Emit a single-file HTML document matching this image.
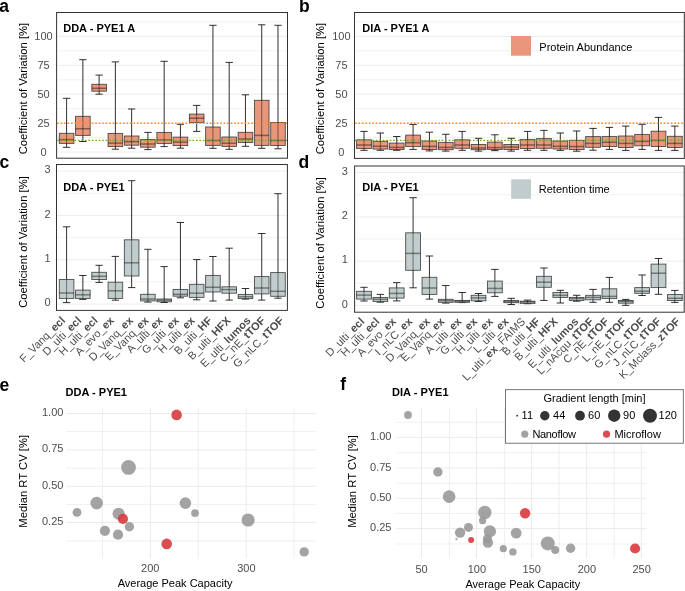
<!DOCTYPE html><html><head><meta charset="utf-8"><style>html,body{margin:0;padding:0;background:#fff;}svg{display:block;will-change:transform;}text{font-family:"Liberation Sans",sans-serif;}</style></head><body>
<svg width="685" height="591" viewBox="0 0 685 591">
<rect width="685" height="591" fill="#fff"/>
<line x1="56.6" y1="152" x2="287.5" y2="152" stroke="#EBEBEB" stroke-width="0.9"/>
<line x1="56.6" y1="123.1" x2="287.5" y2="123.1" stroke="#EBEBEB" stroke-width="0.9"/>
<line x1="56.6" y1="94.2" x2="287.5" y2="94.2" stroke="#EBEBEB" stroke-width="0.9"/>
<line x1="56.6" y1="65.3" x2="287.5" y2="65.3" stroke="#EBEBEB" stroke-width="0.9"/>
<line x1="56.6" y1="36.4" x2="287.5" y2="36.4" stroke="#EBEBEB" stroke-width="0.9"/>
<line x1="56.6" y1="137.55" x2="287.5" y2="137.55" stroke="#EBEBEB" stroke-width="0.7"/>
<line x1="56.6" y1="108.65" x2="287.5" y2="108.65" stroke="#EBEBEB" stroke-width="0.7"/>
<line x1="56.6" y1="79.75" x2="287.5" y2="79.75" stroke="#EBEBEB" stroke-width="0.7"/>
<line x1="56.6" y1="50.85" x2="287.5" y2="50.85" stroke="#EBEBEB" stroke-width="0.7"/>
<line x1="56.6" y1="21.95" x2="287.5" y2="21.95" stroke="#EBEBEB" stroke-width="0.7"/>
<line x1="66.6" y1="98.3" x2="66.6" y2="147.3" stroke="#1a1a1a" stroke-width="0.9"/>
<line x1="62.95" y1="98.3" x2="70.25" y2="98.3" stroke="#1a1a1a" stroke-width="0.9"/>
<line x1="62.95" y1="147.3" x2="70.25" y2="147.3" stroke="#1a1a1a" stroke-width="0.9"/>
<rect x="59.3" y="133.3" width="14.6" height="10.1" fill="#E9967A" stroke="#333" stroke-opacity="0.85" stroke-width="0.9"/>
<line x1="66.6" y1="133.3" x2="66.6" y2="143.4" stroke="#000" stroke-opacity="0.5" stroke-width="0.9"/>
<line x1="59.3" y1="139.6" x2="73.9" y2="139.6" stroke="#000" stroke-opacity="0.42" stroke-width="1.5"/>
<line x1="82.86" y1="59.7" x2="82.86" y2="141.5" stroke="#1a1a1a" stroke-width="0.9"/>
<line x1="79.21" y1="59.7" x2="86.51" y2="59.7" stroke="#1a1a1a" stroke-width="0.9"/>
<line x1="79.21" y1="141.5" x2="86.51" y2="141.5" stroke="#1a1a1a" stroke-width="0.9"/>
<rect x="75.56" y="116.3" width="14.6" height="19.1" fill="#E9967A" stroke="#333" stroke-opacity="0.85" stroke-width="0.9"/>
<line x1="82.86" y1="116.3" x2="82.86" y2="135.4" stroke="#000" stroke-opacity="0.5" stroke-width="0.9"/>
<line x1="75.56" y1="128.7" x2="90.16" y2="128.7" stroke="#000" stroke-opacity="0.42" stroke-width="1.5"/>
<line x1="99.12" y1="75.1" x2="99.12" y2="94.2" stroke="#1a1a1a" stroke-width="0.9"/>
<line x1="95.47" y1="75.1" x2="102.77" y2="75.1" stroke="#1a1a1a" stroke-width="0.9"/>
<line x1="95.47" y1="94.2" x2="102.77" y2="94.2" stroke="#1a1a1a" stroke-width="0.9"/>
<rect x="91.82" y="84.3" width="14.6" height="6.9" fill="#E9967A" stroke="#333" stroke-opacity="0.85" stroke-width="0.9"/>
<line x1="99.12" y1="84.3" x2="99.12" y2="91.2" stroke="#000" stroke-opacity="0.5" stroke-width="0.9"/>
<line x1="91.82" y1="88.3" x2="106.42" y2="88.3" stroke="#000" stroke-opacity="0.42" stroke-width="1.5"/>
<line x1="115.38" y1="61.9" x2="115.38" y2="149.2" stroke="#1a1a1a" stroke-width="0.9"/>
<line x1="111.73" y1="61.9" x2="119.03" y2="61.9" stroke="#1a1a1a" stroke-width="0.9"/>
<line x1="111.73" y1="149.2" x2="119.03" y2="149.2" stroke="#1a1a1a" stroke-width="0.9"/>
<rect x="108.08" y="133.4" width="14.6" height="13.2" fill="#E9967A" stroke="#333" stroke-opacity="0.85" stroke-width="0.9"/>
<line x1="115.38" y1="133.4" x2="115.38" y2="146.6" stroke="#000" stroke-opacity="0.5" stroke-width="0.9"/>
<line x1="108.08" y1="143.1" x2="122.68" y2="143.1" stroke="#000" stroke-opacity="0.42" stroke-width="1.5"/>
<line x1="131.64" y1="109" x2="131.64" y2="148.2" stroke="#1a1a1a" stroke-width="0.9"/>
<line x1="127.99" y1="109" x2="135.29" y2="109" stroke="#1a1a1a" stroke-width="0.9"/>
<line x1="127.99" y1="148.2" x2="135.29" y2="148.2" stroke="#1a1a1a" stroke-width="0.9"/>
<rect x="124.34" y="136" width="14.6" height="9.2" fill="#E9967A" stroke="#333" stroke-opacity="0.85" stroke-width="0.9"/>
<line x1="131.64" y1="136" x2="131.64" y2="145.2" stroke="#000" stroke-opacity="0.5" stroke-width="0.9"/>
<line x1="124.34" y1="141.7" x2="138.94" y2="141.7" stroke="#000" stroke-opacity="0.42" stroke-width="1.5"/>
<line x1="147.9" y1="132.4" x2="147.9" y2="149.6" stroke="#1a1a1a" stroke-width="0.9"/>
<line x1="144.25" y1="132.4" x2="151.55" y2="132.4" stroke="#1a1a1a" stroke-width="0.9"/>
<line x1="144.25" y1="149.6" x2="151.55" y2="149.6" stroke="#1a1a1a" stroke-width="0.9"/>
<rect x="140.6" y="139.5" width="14.6" height="7.7" fill="#E9967A" stroke="#333" stroke-opacity="0.85" stroke-width="0.9"/>
<line x1="147.9" y1="139.5" x2="147.9" y2="147.2" stroke="#000" stroke-opacity="0.5" stroke-width="0.9"/>
<line x1="140.6" y1="144" x2="155.2" y2="144" stroke="#000" stroke-opacity="0.42" stroke-width="1.5"/>
<line x1="164.16" y1="61.3" x2="164.16" y2="146.6" stroke="#1a1a1a" stroke-width="0.9"/>
<line x1="160.51" y1="61.3" x2="167.81" y2="61.3" stroke="#1a1a1a" stroke-width="0.9"/>
<line x1="160.51" y1="146.6" x2="167.81" y2="146.6" stroke="#1a1a1a" stroke-width="0.9"/>
<rect x="156.86" y="132.4" width="14.6" height="11.2" fill="#E9967A" stroke="#333" stroke-opacity="0.85" stroke-width="0.9"/>
<line x1="164.16" y1="132.4" x2="164.16" y2="143.6" stroke="#000" stroke-opacity="0.5" stroke-width="0.9"/>
<line x1="156.86" y1="139.9" x2="171.46" y2="139.9" stroke="#000" stroke-opacity="0.42" stroke-width="1.5"/>
<line x1="180.42" y1="124.3" x2="180.42" y2="148.2" stroke="#1a1a1a" stroke-width="0.9"/>
<line x1="176.77" y1="124.3" x2="184.07" y2="124.3" stroke="#1a1a1a" stroke-width="0.9"/>
<line x1="176.77" y1="148.2" x2="184.07" y2="148.2" stroke="#1a1a1a" stroke-width="0.9"/>
<rect x="173.12" y="137.1" width="14.6" height="8.5" fill="#E9967A" stroke="#333" stroke-opacity="0.85" stroke-width="0.9"/>
<line x1="180.42" y1="137.1" x2="180.42" y2="145.6" stroke="#000" stroke-opacity="0.5" stroke-width="0.9"/>
<line x1="173.12" y1="142.1" x2="187.72" y2="142.1" stroke="#000" stroke-opacity="0.42" stroke-width="1.5"/>
<line x1="196.68" y1="105.4" x2="196.68" y2="131.4" stroke="#1a1a1a" stroke-width="0.9"/>
<line x1="193.03" y1="105.4" x2="200.33" y2="105.4" stroke="#1a1a1a" stroke-width="0.9"/>
<line x1="193.03" y1="131.4" x2="200.33" y2="131.4" stroke="#1a1a1a" stroke-width="0.9"/>
<rect x="189.38" y="114.1" width="14.6" height="8.5" fill="#E9967A" stroke="#333" stroke-opacity="0.85" stroke-width="0.9"/>
<line x1="196.68" y1="114.1" x2="196.68" y2="122.6" stroke="#000" stroke-opacity="0.5" stroke-width="0.9"/>
<line x1="189.38" y1="118.2" x2="203.98" y2="118.2" stroke="#000" stroke-opacity="0.42" stroke-width="1.5"/>
<line x1="212.94" y1="25.3" x2="212.94" y2="148.3" stroke="#1a1a1a" stroke-width="0.9"/>
<line x1="209.29" y1="25.3" x2="216.59" y2="25.3" stroke="#1a1a1a" stroke-width="0.9"/>
<line x1="209.29" y1="148.3" x2="216.59" y2="148.3" stroke="#1a1a1a" stroke-width="0.9"/>
<rect x="205.64" y="127" width="14.6" height="18.4" fill="#E9967A" stroke="#333" stroke-opacity="0.85" stroke-width="0.9"/>
<line x1="212.94" y1="127" x2="212.94" y2="145.4" stroke="#000" stroke-opacity="0.5" stroke-width="0.9"/>
<line x1="205.64" y1="140.5" x2="220.24" y2="140.5" stroke="#000" stroke-opacity="0.42" stroke-width="1.5"/>
<line x1="229.2" y1="62.4" x2="229.2" y2="149.3" stroke="#1a1a1a" stroke-width="0.9"/>
<line x1="225.55" y1="62.4" x2="232.85" y2="62.4" stroke="#1a1a1a" stroke-width="0.9"/>
<line x1="225.55" y1="149.3" x2="232.85" y2="149.3" stroke="#1a1a1a" stroke-width="0.9"/>
<rect x="221.9" y="137" width="14.6" height="9.4" fill="#E9967A" stroke="#333" stroke-opacity="0.85" stroke-width="0.9"/>
<line x1="229.2" y1="137" x2="229.2" y2="146.4" stroke="#000" stroke-opacity="0.5" stroke-width="0.9"/>
<line x1="221.9" y1="143.2" x2="236.5" y2="143.2" stroke="#000" stroke-opacity="0.42" stroke-width="1.5"/>
<line x1="245.46" y1="94.8" x2="245.46" y2="146.3" stroke="#1a1a1a" stroke-width="0.9"/>
<line x1="241.81" y1="94.8" x2="249.11" y2="94.8" stroke="#1a1a1a" stroke-width="0.9"/>
<line x1="241.81" y1="146.3" x2="249.11" y2="146.3" stroke="#1a1a1a" stroke-width="0.9"/>
<rect x="238.16" y="132.3" width="14.6" height="10.2" fill="#E9967A" stroke="#333" stroke-opacity="0.85" stroke-width="0.9"/>
<line x1="245.46" y1="132.3" x2="245.46" y2="142.5" stroke="#000" stroke-opacity="0.5" stroke-width="0.9"/>
<line x1="238.16" y1="139" x2="252.76" y2="139" stroke="#000" stroke-opacity="0.42" stroke-width="1.5"/>
<line x1="261.72" y1="24.8" x2="261.72" y2="148.3" stroke="#1a1a1a" stroke-width="0.9"/>
<line x1="258.07" y1="24.8" x2="265.37" y2="24.8" stroke="#1a1a1a" stroke-width="0.9"/>
<line x1="258.07" y1="148.3" x2="265.37" y2="148.3" stroke="#1a1a1a" stroke-width="0.9"/>
<rect x="254.42" y="100.3" width="14.6" height="45.1" fill="#E9967A" stroke="#333" stroke-opacity="0.85" stroke-width="0.9"/>
<line x1="261.72" y1="100.3" x2="261.72" y2="145.4" stroke="#000" stroke-opacity="0.5" stroke-width="0.9"/>
<line x1="254.42" y1="135.4" x2="269.02" y2="135.4" stroke="#000" stroke-opacity="0.42" stroke-width="1.5"/>
<line x1="277.98" y1="25.3" x2="277.98" y2="148.8" stroke="#1a1a1a" stroke-width="0.9"/>
<line x1="274.33" y1="25.3" x2="281.63" y2="25.3" stroke="#1a1a1a" stroke-width="0.9"/>
<line x1="274.33" y1="148.8" x2="281.63" y2="148.8" stroke="#1a1a1a" stroke-width="0.9"/>
<rect x="270.68" y="122.5" width="14.6" height="23" fill="#E9967A" stroke="#333" stroke-opacity="0.85" stroke-width="0.9"/>
<line x1="277.98" y1="122.5" x2="277.98" y2="145.5" stroke="#000" stroke-opacity="0.5" stroke-width="0.9"/>
<line x1="270.68" y1="140.5" x2="285.28" y2="140.5" stroke="#000" stroke-opacity="0.42" stroke-width="1.5"/>
<line x1="57.1" y1="123.2" x2="287.5" y2="123.2" stroke="#FF8E26" stroke-width="1.4" stroke-dasharray="1.6 1.87"/>
<line x1="57.1" y1="140.4" x2="287.5" y2="140.4" stroke="#6DAA1A" stroke-width="1.4" stroke-dasharray="1.6 1.87"/>
<rect x="56.6" y="12.5" width="230.9" height="145.7" fill="none" stroke="#333" stroke-width="1"/>
<text x="43.5" y="155.9" fill="#4D4D4D" font-size="11" text-anchor="middle">0</text>
<text x="43.5" y="127" fill="#4D4D4D" font-size="11" text-anchor="middle">25</text>
<text x="43.5" y="98.1" fill="#4D4D4D" font-size="11" text-anchor="middle">50</text>
<text x="43.5" y="69.2" fill="#4D4D4D" font-size="11" text-anchor="middle">75</text>
<text x="43.5" y="40.3" fill="#4D4D4D" font-size="11" text-anchor="middle">100</text>
<text transform="translate(26.6,88.6) rotate(-90)" font-size="11.25" text-anchor="middle" fill="#000">Coefficient of Variation [%]</text>
<text x="63.2" y="31.6" font-size="11" font-weight="bold">DDA - PYE1 A</text>
<line x1="354.5" y1="152" x2="684.3" y2="152" stroke="#EBEBEB" stroke-width="0.9"/>
<line x1="354.5" y1="123.1" x2="684.3" y2="123.1" stroke="#EBEBEB" stroke-width="0.9"/>
<line x1="354.5" y1="94.2" x2="684.3" y2="94.2" stroke="#EBEBEB" stroke-width="0.9"/>
<line x1="354.5" y1="65.3" x2="684.3" y2="65.3" stroke="#EBEBEB" stroke-width="0.9"/>
<line x1="354.5" y1="36.4" x2="684.3" y2="36.4" stroke="#EBEBEB" stroke-width="0.9"/>
<line x1="354.5" y1="137.55" x2="684.3" y2="137.55" stroke="#EBEBEB" stroke-width="0.7"/>
<line x1="354.5" y1="108.65" x2="684.3" y2="108.65" stroke="#EBEBEB" stroke-width="0.7"/>
<line x1="354.5" y1="79.75" x2="684.3" y2="79.75" stroke="#EBEBEB" stroke-width="0.7"/>
<line x1="354.5" y1="50.85" x2="684.3" y2="50.85" stroke="#EBEBEB" stroke-width="0.7"/>
<line x1="354.5" y1="21.95" x2="684.3" y2="21.95" stroke="#EBEBEB" stroke-width="0.7"/>
<line x1="364" y1="131.4" x2="364" y2="150.3" stroke="#1a1a1a" stroke-width="0.9"/>
<line x1="360.3" y1="131.4" x2="367.7" y2="131.4" stroke="#1a1a1a" stroke-width="0.9"/>
<line x1="360.3" y1="150.3" x2="367.7" y2="150.3" stroke="#1a1a1a" stroke-width="0.9"/>
<rect x="356.6" y="139.8" width="14.8" height="8.7" fill="#E9967A" stroke="#333" stroke-opacity="0.85" stroke-width="0.9"/>
<line x1="364" y1="139.8" x2="364" y2="148.5" stroke="#000" stroke-opacity="0.5" stroke-width="0.9"/>
<line x1="356.6" y1="145" x2="371.4" y2="145" stroke="#000" stroke-opacity="0.42" stroke-width="1.5"/>
<line x1="380.36" y1="133" x2="380.36" y2="150.3" stroke="#1a1a1a" stroke-width="0.9"/>
<line x1="376.66" y1="133" x2="384.06" y2="133" stroke="#1a1a1a" stroke-width="0.9"/>
<line x1="376.66" y1="150.3" x2="384.06" y2="150.3" stroke="#1a1a1a" stroke-width="0.9"/>
<rect x="372.96" y="141.3" width="14.8" height="7.8" fill="#E9967A" stroke="#333" stroke-opacity="0.85" stroke-width="0.9"/>
<line x1="380.36" y1="141.3" x2="380.36" y2="149.1" stroke="#000" stroke-opacity="0.5" stroke-width="0.9"/>
<line x1="372.96" y1="146.2" x2="387.76" y2="146.2" stroke="#000" stroke-opacity="0.42" stroke-width="1.5"/>
<line x1="396.72" y1="136.5" x2="396.72" y2="150.3" stroke="#1a1a1a" stroke-width="0.9"/>
<line x1="393.02" y1="136.5" x2="400.42" y2="136.5" stroke="#1a1a1a" stroke-width="0.9"/>
<line x1="393.02" y1="150.3" x2="400.42" y2="150.3" stroke="#1a1a1a" stroke-width="0.9"/>
<rect x="389.32" y="143.1" width="14.8" height="6.4" fill="#E9967A" stroke="#333" stroke-opacity="0.85" stroke-width="0.9"/>
<line x1="396.72" y1="143.1" x2="396.72" y2="149.5" stroke="#000" stroke-opacity="0.5" stroke-width="0.9"/>
<line x1="389.32" y1="147.4" x2="404.12" y2="147.4" stroke="#000" stroke-opacity="0.42" stroke-width="1.5"/>
<line x1="413.08" y1="124.4" x2="413.08" y2="149.4" stroke="#1a1a1a" stroke-width="0.9"/>
<line x1="409.38" y1="124.4" x2="416.78" y2="124.4" stroke="#1a1a1a" stroke-width="0.9"/>
<line x1="409.38" y1="149.4" x2="416.78" y2="149.4" stroke="#1a1a1a" stroke-width="0.9"/>
<rect x="405.68" y="135.1" width="14.8" height="11.5" fill="#E9967A" stroke="#333" stroke-opacity="0.85" stroke-width="0.9"/>
<line x1="413.08" y1="135.1" x2="413.08" y2="146.6" stroke="#000" stroke-opacity="0.5" stroke-width="0.9"/>
<line x1="405.68" y1="142.7" x2="420.48" y2="142.7" stroke="#000" stroke-opacity="0.42" stroke-width="1.5"/>
<line x1="429.44" y1="132.2" x2="429.44" y2="150.9" stroke="#1a1a1a" stroke-width="0.9"/>
<line x1="425.74" y1="132.2" x2="433.14" y2="132.2" stroke="#1a1a1a" stroke-width="0.9"/>
<line x1="425.74" y1="150.9" x2="433.14" y2="150.9" stroke="#1a1a1a" stroke-width="0.9"/>
<rect x="422.04" y="141" width="14.8" height="8.5" fill="#E9967A" stroke="#333" stroke-opacity="0.85" stroke-width="0.9"/>
<line x1="429.44" y1="141" x2="429.44" y2="149.5" stroke="#000" stroke-opacity="0.5" stroke-width="0.9"/>
<line x1="422.04" y1="146.4" x2="436.84" y2="146.4" stroke="#000" stroke-opacity="0.42" stroke-width="1.5"/>
<line x1="445.8" y1="134.3" x2="445.8" y2="151.1" stroke="#1a1a1a" stroke-width="0.9"/>
<line x1="442.1" y1="134.3" x2="449.5" y2="134.3" stroke="#1a1a1a" stroke-width="0.9"/>
<line x1="442.1" y1="151.1" x2="449.5" y2="151.1" stroke="#1a1a1a" stroke-width="0.9"/>
<rect x="438.4" y="142.4" width="14.8" height="7.3" fill="#E9967A" stroke="#333" stroke-opacity="0.85" stroke-width="0.9"/>
<line x1="445.8" y1="142.4" x2="445.8" y2="149.7" stroke="#000" stroke-opacity="0.5" stroke-width="0.9"/>
<line x1="438.4" y1="147.4" x2="453.2" y2="147.4" stroke="#000" stroke-opacity="0.42" stroke-width="1.5"/>
<line x1="462.16" y1="131.4" x2="462.16" y2="150.3" stroke="#1a1a1a" stroke-width="0.9"/>
<line x1="458.46" y1="131.4" x2="465.86" y2="131.4" stroke="#1a1a1a" stroke-width="0.9"/>
<line x1="458.46" y1="150.3" x2="465.86" y2="150.3" stroke="#1a1a1a" stroke-width="0.9"/>
<rect x="454.76" y="139.8" width="14.8" height="8.5" fill="#E9967A" stroke="#333" stroke-opacity="0.85" stroke-width="0.9"/>
<line x1="462.16" y1="139.8" x2="462.16" y2="148.3" stroke="#000" stroke-opacity="0.5" stroke-width="0.9"/>
<line x1="454.76" y1="145" x2="469.56" y2="145" stroke="#000" stroke-opacity="0.42" stroke-width="1.5"/>
<line x1="478.52" y1="138.3" x2="478.52" y2="151.1" stroke="#1a1a1a" stroke-width="0.9"/>
<line x1="474.82" y1="138.3" x2="482.22" y2="138.3" stroke="#1a1a1a" stroke-width="0.9"/>
<line x1="474.82" y1="151.1" x2="482.22" y2="151.1" stroke="#1a1a1a" stroke-width="0.9"/>
<rect x="471.12" y="144.5" width="14.8" height="5.2" fill="#E9967A" stroke="#333" stroke-opacity="0.85" stroke-width="0.9"/>
<line x1="478.52" y1="144.5" x2="478.52" y2="149.7" stroke="#000" stroke-opacity="0.5" stroke-width="0.9"/>
<line x1="471.12" y1="148" x2="485.92" y2="148" stroke="#000" stroke-opacity="0.42" stroke-width="1.5"/>
<line x1="494.88" y1="134.8" x2="494.88" y2="150.6" stroke="#1a1a1a" stroke-width="0.9"/>
<line x1="491.18" y1="134.8" x2="498.58" y2="134.8" stroke="#1a1a1a" stroke-width="0.9"/>
<line x1="491.18" y1="150.6" x2="498.58" y2="150.6" stroke="#1a1a1a" stroke-width="0.9"/>
<rect x="487.48" y="142.1" width="14.8" height="7.4" fill="#E9967A" stroke="#333" stroke-opacity="0.85" stroke-width="0.9"/>
<line x1="494.88" y1="142.1" x2="494.88" y2="149.5" stroke="#000" stroke-opacity="0.5" stroke-width="0.9"/>
<line x1="487.48" y1="147.6" x2="502.28" y2="147.6" stroke="#000" stroke-opacity="0.42" stroke-width="1.5"/>
<line x1="511.24" y1="138.3" x2="511.24" y2="151.1" stroke="#1a1a1a" stroke-width="0.9"/>
<line x1="507.54" y1="138.3" x2="514.94" y2="138.3" stroke="#1a1a1a" stroke-width="0.9"/>
<line x1="507.54" y1="151.1" x2="514.94" y2="151.1" stroke="#1a1a1a" stroke-width="0.9"/>
<rect x="503.84" y="144.5" width="14.8" height="5" fill="#E9967A" stroke="#333" stroke-opacity="0.85" stroke-width="0.9"/>
<line x1="511.24" y1="144.5" x2="511.24" y2="149.5" stroke="#000" stroke-opacity="0.5" stroke-width="0.9"/>
<line x1="503.84" y1="147.1" x2="518.64" y2="147.1" stroke="#000" stroke-opacity="0.42" stroke-width="1.5"/>
<line x1="527.6" y1="131.4" x2="527.6" y2="150.3" stroke="#1a1a1a" stroke-width="0.9"/>
<line x1="523.9" y1="131.4" x2="531.3" y2="131.4" stroke="#1a1a1a" stroke-width="0.9"/>
<line x1="523.9" y1="150.3" x2="531.3" y2="150.3" stroke="#1a1a1a" stroke-width="0.9"/>
<rect x="520.2" y="139.4" width="14.8" height="9.1" fill="#E9967A" stroke="#333" stroke-opacity="0.85" stroke-width="0.9"/>
<line x1="527.6" y1="139.4" x2="527.6" y2="148.5" stroke="#000" stroke-opacity="0.5" stroke-width="0.9"/>
<line x1="520.2" y1="145" x2="535" y2="145" stroke="#000" stroke-opacity="0.42" stroke-width="1.5"/>
<line x1="543.96" y1="130.4" x2="543.96" y2="150.3" stroke="#1a1a1a" stroke-width="0.9"/>
<line x1="540.26" y1="130.4" x2="547.66" y2="130.4" stroke="#1a1a1a" stroke-width="0.9"/>
<line x1="540.26" y1="150.3" x2="547.66" y2="150.3" stroke="#1a1a1a" stroke-width="0.9"/>
<rect x="536.56" y="138.6" width="14.8" height="9.7" fill="#E9967A" stroke="#333" stroke-opacity="0.85" stroke-width="0.9"/>
<line x1="543.96" y1="138.6" x2="543.96" y2="148.3" stroke="#000" stroke-opacity="0.5" stroke-width="0.9"/>
<line x1="536.56" y1="145" x2="551.36" y2="145" stroke="#000" stroke-opacity="0.42" stroke-width="1.5"/>
<line x1="560.32" y1="133" x2="560.32" y2="150.4" stroke="#1a1a1a" stroke-width="0.9"/>
<line x1="556.62" y1="133" x2="564.02" y2="133" stroke="#1a1a1a" stroke-width="0.9"/>
<line x1="556.62" y1="150.4" x2="564.02" y2="150.4" stroke="#1a1a1a" stroke-width="0.9"/>
<rect x="552.92" y="141" width="14.8" height="8" fill="#E9967A" stroke="#333" stroke-opacity="0.85" stroke-width="0.9"/>
<line x1="560.32" y1="141" x2="560.32" y2="149" stroke="#000" stroke-opacity="0.5" stroke-width="0.9"/>
<line x1="552.92" y1="146.3" x2="567.72" y2="146.3" stroke="#000" stroke-opacity="0.42" stroke-width="1.5"/>
<line x1="576.68" y1="131" x2="576.68" y2="151.2" stroke="#1a1a1a" stroke-width="0.9"/>
<line x1="572.98" y1="131" x2="580.38" y2="131" stroke="#1a1a1a" stroke-width="0.9"/>
<line x1="572.98" y1="151.2" x2="580.38" y2="151.2" stroke="#1a1a1a" stroke-width="0.9"/>
<rect x="569.28" y="140.3" width="14.8" height="9.3" fill="#E9967A" stroke="#333" stroke-opacity="0.85" stroke-width="0.9"/>
<line x1="576.68" y1="140.3" x2="576.68" y2="149.6" stroke="#000" stroke-opacity="0.5" stroke-width="0.9"/>
<line x1="569.28" y1="146.5" x2="584.08" y2="146.5" stroke="#000" stroke-opacity="0.42" stroke-width="1.5"/>
<line x1="593.04" y1="128.4" x2="593.04" y2="150.2" stroke="#1a1a1a" stroke-width="0.9"/>
<line x1="589.34" y1="128.4" x2="596.74" y2="128.4" stroke="#1a1a1a" stroke-width="0.9"/>
<line x1="589.34" y1="150.2" x2="596.74" y2="150.2" stroke="#1a1a1a" stroke-width="0.9"/>
<rect x="585.64" y="136.6" width="14.8" height="10.7" fill="#E9967A" stroke="#333" stroke-opacity="0.85" stroke-width="0.9"/>
<line x1="593.04" y1="136.6" x2="593.04" y2="147.3" stroke="#000" stroke-opacity="0.5" stroke-width="0.9"/>
<line x1="585.64" y1="143.4" x2="600.44" y2="143.4" stroke="#000" stroke-opacity="0.42" stroke-width="1.5"/>
<line x1="609.4" y1="127.4" x2="609.4" y2="149.4" stroke="#1a1a1a" stroke-width="0.9"/>
<line x1="605.7" y1="127.4" x2="613.1" y2="127.4" stroke="#1a1a1a" stroke-width="0.9"/>
<line x1="605.7" y1="149.4" x2="613.1" y2="149.4" stroke="#1a1a1a" stroke-width="0.9"/>
<rect x="602" y="136.4" width="14.8" height="10.1" fill="#E9967A" stroke="#333" stroke-opacity="0.85" stroke-width="0.9"/>
<line x1="609.4" y1="136.4" x2="609.4" y2="146.5" stroke="#000" stroke-opacity="0.5" stroke-width="0.9"/>
<line x1="602" y1="142.3" x2="616.8" y2="142.3" stroke="#000" stroke-opacity="0.42" stroke-width="1.5"/>
<line x1="625.76" y1="126.1" x2="625.76" y2="150.4" stroke="#1a1a1a" stroke-width="0.9"/>
<line x1="622.06" y1="126.1" x2="629.46" y2="126.1" stroke="#1a1a1a" stroke-width="0.9"/>
<line x1="622.06" y1="150.4" x2="629.46" y2="150.4" stroke="#1a1a1a" stroke-width="0.9"/>
<rect x="618.36" y="136" width="14.8" height="11.5" fill="#E9967A" stroke="#333" stroke-opacity="0.85" stroke-width="0.9"/>
<line x1="625.76" y1="136" x2="625.76" y2="147.5" stroke="#000" stroke-opacity="0.5" stroke-width="0.9"/>
<line x1="618.36" y1="143.4" x2="633.16" y2="143.4" stroke="#000" stroke-opacity="0.42" stroke-width="1.5"/>
<line x1="642.12" y1="124.3" x2="642.12" y2="149.4" stroke="#1a1a1a" stroke-width="0.9"/>
<line x1="638.42" y1="124.3" x2="645.82" y2="124.3" stroke="#1a1a1a" stroke-width="0.9"/>
<line x1="638.42" y1="149.4" x2="645.82" y2="149.4" stroke="#1a1a1a" stroke-width="0.9"/>
<rect x="634.72" y="134.4" width="14.8" height="11.4" fill="#E9967A" stroke="#333" stroke-opacity="0.85" stroke-width="0.9"/>
<line x1="642.12" y1="134.4" x2="642.12" y2="145.8" stroke="#000" stroke-opacity="0.5" stroke-width="0.9"/>
<line x1="634.72" y1="141.4" x2="649.52" y2="141.4" stroke="#000" stroke-opacity="0.42" stroke-width="1.5"/>
<line x1="658.48" y1="117.4" x2="658.48" y2="150.4" stroke="#1a1a1a" stroke-width="0.9"/>
<line x1="654.78" y1="117.4" x2="662.18" y2="117.4" stroke="#1a1a1a" stroke-width="0.9"/>
<line x1="654.78" y1="150.4" x2="662.18" y2="150.4" stroke="#1a1a1a" stroke-width="0.9"/>
<rect x="651.08" y="131.2" width="14.8" height="15.3" fill="#E9967A" stroke="#333" stroke-opacity="0.85" stroke-width="0.9"/>
<line x1="658.48" y1="131.2" x2="658.48" y2="146.5" stroke="#000" stroke-opacity="0.5" stroke-width="0.9"/>
<line x1="651.08" y1="140.4" x2="665.88" y2="140.4" stroke="#000" stroke-opacity="0.42" stroke-width="1.5"/>
<line x1="674.84" y1="126.1" x2="674.84" y2="150.4" stroke="#1a1a1a" stroke-width="0.9"/>
<line x1="671.14" y1="126.1" x2="678.54" y2="126.1" stroke="#1a1a1a" stroke-width="0.9"/>
<line x1="671.14" y1="150.4" x2="678.54" y2="150.4" stroke="#1a1a1a" stroke-width="0.9"/>
<rect x="667.44" y="136.3" width="14.8" height="11.2" fill="#E9967A" stroke="#333" stroke-opacity="0.85" stroke-width="0.9"/>
<line x1="674.84" y1="136.3" x2="674.84" y2="147.5" stroke="#000" stroke-opacity="0.5" stroke-width="0.9"/>
<line x1="667.44" y1="143.4" x2="682.24" y2="143.4" stroke="#000" stroke-opacity="0.42" stroke-width="1.5"/>
<line x1="355" y1="123.2" x2="684.3" y2="123.2" stroke="#FF8E26" stroke-width="1.4" stroke-dasharray="1.6 1.87"/>
<line x1="355" y1="140.4" x2="684.3" y2="140.4" stroke="#6DAA1A" stroke-width="1.4" stroke-dasharray="1.6 1.87"/>
<rect x="354.5" y="12.5" width="329.8" height="145.9" fill="none" stroke="#333" stroke-width="1"/>
<text x="341.4" y="155.9" fill="#4D4D4D" font-size="11" text-anchor="middle">0</text>
<text x="341.4" y="127" fill="#4D4D4D" font-size="11" text-anchor="middle">25</text>
<text x="341.4" y="98.1" fill="#4D4D4D" font-size="11" text-anchor="middle">50</text>
<text x="341.4" y="69.2" fill="#4D4D4D" font-size="11" text-anchor="middle">75</text>
<text x="341.4" y="40.3" fill="#4D4D4D" font-size="11" text-anchor="middle">100</text>
<text transform="translate(324.2,88.6) rotate(-90)" font-size="11.25" text-anchor="middle" fill="#000">Coefficient of Variation [%]</text>
<text x="362.3" y="31.6" font-size="11" font-weight="bold">DIA - PYE1 A</text>
<rect x="511" y="36" width="20" height="19.7" fill="#E9967A"/>
<text x="539.3" y="50.6" font-size="11">Protein Abundance</text>
<line x1="56.5" y1="304.1" x2="287.4" y2="304.1" stroke="#EBEBEB" stroke-width="0.9"/>
<line x1="56.5" y1="259.77" x2="287.4" y2="259.77" stroke="#EBEBEB" stroke-width="0.9"/>
<line x1="56.5" y1="215.44" x2="287.4" y2="215.44" stroke="#EBEBEB" stroke-width="0.9"/>
<line x1="56.5" y1="171.11" x2="287.4" y2="171.11" stroke="#EBEBEB" stroke-width="0.9"/>
<line x1="56.5" y1="281.94" x2="287.4" y2="281.94" stroke="#EBEBEB" stroke-width="0.7"/>
<line x1="56.5" y1="237.61" x2="287.4" y2="237.61" stroke="#EBEBEB" stroke-width="0.7"/>
<line x1="56.5" y1="193.28" x2="287.4" y2="193.28" stroke="#EBEBEB" stroke-width="0.7"/>
<line x1="66.6" y1="226.8" x2="66.6" y2="302.6" stroke="#1a1a1a" stroke-width="0.9"/>
<line x1="62.95" y1="226.8" x2="70.25" y2="226.8" stroke="#1a1a1a" stroke-width="0.9"/>
<line x1="62.95" y1="302.6" x2="70.25" y2="302.6" stroke="#1a1a1a" stroke-width="0.9"/>
<rect x="59.3" y="279.5" width="14.6" height="18.9" fill="#C1CDCD" stroke="#333" stroke-opacity="0.85" stroke-width="0.9"/>
<line x1="66.6" y1="279.5" x2="66.6" y2="298.4" stroke="#000" stroke-opacity="0.5" stroke-width="0.9"/>
<line x1="59.3" y1="293" x2="73.9" y2="293" stroke="#000" stroke-opacity="0.42" stroke-width="1.5"/>
<line x1="82.86" y1="275.5" x2="82.86" y2="299.4" stroke="#1a1a1a" stroke-width="0.9"/>
<line x1="79.21" y1="275.5" x2="86.51" y2="275.5" stroke="#1a1a1a" stroke-width="0.9"/>
<line x1="79.21" y1="299.4" x2="86.51" y2="299.4" stroke="#1a1a1a" stroke-width="0.9"/>
<rect x="75.56" y="290.1" width="14.6" height="8.3" fill="#C1CDCD" stroke="#333" stroke-opacity="0.85" stroke-width="0.9"/>
<line x1="82.86" y1="290.1" x2="82.86" y2="298.4" stroke="#000" stroke-opacity="0.5" stroke-width="0.9"/>
<line x1="75.56" y1="294.8" x2="90.16" y2="294.8" stroke="#000" stroke-opacity="0.42" stroke-width="1.5"/>
<line x1="99.12" y1="265.3" x2="99.12" y2="282.4" stroke="#1a1a1a" stroke-width="0.9"/>
<line x1="95.47" y1="265.3" x2="102.77" y2="265.3" stroke="#1a1a1a" stroke-width="0.9"/>
<line x1="95.47" y1="282.4" x2="102.77" y2="282.4" stroke="#1a1a1a" stroke-width="0.9"/>
<rect x="91.82" y="272.3" width="14.6" height="7.2" fill="#C1CDCD" stroke="#333" stroke-opacity="0.85" stroke-width="0.9"/>
<line x1="99.12" y1="272.3" x2="99.12" y2="279.5" stroke="#000" stroke-opacity="0.5" stroke-width="0.9"/>
<line x1="91.82" y1="276.3" x2="106.42" y2="276.3" stroke="#000" stroke-opacity="0.42" stroke-width="1.5"/>
<line x1="115.38" y1="256.4" x2="115.38" y2="300.2" stroke="#1a1a1a" stroke-width="0.9"/>
<line x1="111.73" y1="256.4" x2="119.03" y2="256.4" stroke="#1a1a1a" stroke-width="0.9"/>
<line x1="111.73" y1="300.2" x2="119.03" y2="300.2" stroke="#1a1a1a" stroke-width="0.9"/>
<rect x="108.08" y="282.2" width="14.6" height="16.2" fill="#C1CDCD" stroke="#333" stroke-opacity="0.85" stroke-width="0.9"/>
<line x1="115.38" y1="282.2" x2="115.38" y2="298.4" stroke="#000" stroke-opacity="0.5" stroke-width="0.9"/>
<line x1="108.08" y1="290.8" x2="122.68" y2="290.8" stroke="#000" stroke-opacity="0.42" stroke-width="1.5"/>
<line x1="131.64" y1="180.7" x2="131.64" y2="287.6" stroke="#1a1a1a" stroke-width="0.9"/>
<line x1="127.99" y1="180.7" x2="135.29" y2="180.7" stroke="#1a1a1a" stroke-width="0.9"/>
<line x1="127.99" y1="287.6" x2="135.29" y2="287.6" stroke="#1a1a1a" stroke-width="0.9"/>
<rect x="124.34" y="239.8" width="14.6" height="36.2" fill="#C1CDCD" stroke="#333" stroke-opacity="0.85" stroke-width="0.9"/>
<line x1="131.64" y1="239.8" x2="131.64" y2="276" stroke="#000" stroke-opacity="0.5" stroke-width="0.9"/>
<line x1="124.34" y1="262.8" x2="138.94" y2="262.8" stroke="#000" stroke-opacity="0.42" stroke-width="1.5"/>
<line x1="147.9" y1="249.3" x2="147.9" y2="302.1" stroke="#1a1a1a" stroke-width="0.9"/>
<line x1="144.25" y1="249.3" x2="151.55" y2="249.3" stroke="#1a1a1a" stroke-width="0.9"/>
<line x1="144.25" y1="302.1" x2="151.55" y2="302.1" stroke="#1a1a1a" stroke-width="0.9"/>
<rect x="140.6" y="294.3" width="14.6" height="6.6" fill="#C1CDCD" stroke="#333" stroke-opacity="0.85" stroke-width="0.9"/>
<line x1="147.9" y1="294.3" x2="147.9" y2="300.9" stroke="#000" stroke-opacity="0.5" stroke-width="0.9"/>
<line x1="140.6" y1="299" x2="155.2" y2="299" stroke="#000" stroke-opacity="0.42" stroke-width="1.5"/>
<line x1="164.16" y1="266.6" x2="164.16" y2="302.5" stroke="#1a1a1a" stroke-width="0.9"/>
<line x1="160.51" y1="266.6" x2="167.81" y2="266.6" stroke="#1a1a1a" stroke-width="0.9"/>
<line x1="160.51" y1="302.5" x2="167.81" y2="302.5" stroke="#1a1a1a" stroke-width="0.9"/>
<rect x="156.86" y="299" width="14.6" height="2.8" fill="#C1CDCD" stroke="#333" stroke-opacity="0.85" stroke-width="0.9"/>
<line x1="164.16" y1="299" x2="164.16" y2="301.8" stroke="#000" stroke-opacity="0.5" stroke-width="0.9"/>
<line x1="156.86" y1="300.2" x2="171.46" y2="300.2" stroke="#000" stroke-opacity="0.42" stroke-width="1.5"/>
<line x1="180.42" y1="222.5" x2="180.42" y2="297.8" stroke="#1a1a1a" stroke-width="0.9"/>
<line x1="176.77" y1="222.5" x2="184.07" y2="222.5" stroke="#1a1a1a" stroke-width="0.9"/>
<line x1="176.77" y1="297.8" x2="184.07" y2="297.8" stroke="#1a1a1a" stroke-width="0.9"/>
<rect x="173.12" y="289.5" width="14.6" height="6.7" fill="#C1CDCD" stroke="#333" stroke-opacity="0.85" stroke-width="0.9"/>
<line x1="180.42" y1="289.5" x2="180.42" y2="296.2" stroke="#000" stroke-opacity="0.5" stroke-width="0.9"/>
<line x1="173.12" y1="294.3" x2="187.72" y2="294.3" stroke="#000" stroke-opacity="0.42" stroke-width="1.5"/>
<line x1="196.68" y1="259.6" x2="196.68" y2="299.8" stroke="#1a1a1a" stroke-width="0.9"/>
<line x1="193.03" y1="259.6" x2="200.33" y2="259.6" stroke="#1a1a1a" stroke-width="0.9"/>
<line x1="193.03" y1="299.8" x2="200.33" y2="299.8" stroke="#1a1a1a" stroke-width="0.9"/>
<rect x="189.38" y="284.3" width="14.6" height="13.1" fill="#C1CDCD" stroke="#333" stroke-opacity="0.85" stroke-width="0.9"/>
<line x1="196.68" y1="284.3" x2="196.68" y2="297.4" stroke="#000" stroke-opacity="0.5" stroke-width="0.9"/>
<line x1="189.38" y1="293.2" x2="203.98" y2="293.2" stroke="#000" stroke-opacity="0.42" stroke-width="1.5"/>
<line x1="212.94" y1="256.5" x2="212.94" y2="301" stroke="#1a1a1a" stroke-width="0.9"/>
<line x1="209.29" y1="256.5" x2="216.59" y2="256.5" stroke="#1a1a1a" stroke-width="0.9"/>
<line x1="209.29" y1="301" x2="216.59" y2="301" stroke="#1a1a1a" stroke-width="0.9"/>
<rect x="205.64" y="275.4" width="14.6" height="16.6" fill="#C1CDCD" stroke="#333" stroke-opacity="0.85" stroke-width="0.9"/>
<line x1="212.94" y1="275.4" x2="212.94" y2="292" stroke="#000" stroke-opacity="0.5" stroke-width="0.9"/>
<line x1="205.64" y1="287.3" x2="220.24" y2="287.3" stroke="#000" stroke-opacity="0.42" stroke-width="1.5"/>
<line x1="229.2" y1="248.2" x2="229.2" y2="300.1" stroke="#1a1a1a" stroke-width="0.9"/>
<line x1="225.55" y1="248.2" x2="232.85" y2="248.2" stroke="#1a1a1a" stroke-width="0.9"/>
<line x1="225.55" y1="300.1" x2="232.85" y2="300.1" stroke="#1a1a1a" stroke-width="0.9"/>
<rect x="221.9" y="286.8" width="14.6" height="6.4" fill="#C1CDCD" stroke="#333" stroke-opacity="0.85" stroke-width="0.9"/>
<line x1="229.2" y1="286.8" x2="229.2" y2="293.2" stroke="#000" stroke-opacity="0.5" stroke-width="0.9"/>
<line x1="221.9" y1="289.6" x2="236.5" y2="289.6" stroke="#000" stroke-opacity="0.42" stroke-width="1.5"/>
<line x1="245.46" y1="288.5" x2="245.46" y2="299.1" stroke="#1a1a1a" stroke-width="0.9"/>
<line x1="241.81" y1="288.5" x2="249.11" y2="288.5" stroke="#1a1a1a" stroke-width="0.9"/>
<line x1="241.81" y1="299.1" x2="249.11" y2="299.1" stroke="#1a1a1a" stroke-width="0.9"/>
<rect x="238.16" y="294.4" width="14.6" height="4.2" fill="#C1CDCD" stroke="#333" stroke-opacity="0.85" stroke-width="0.9"/>
<line x1="245.46" y1="294.4" x2="245.46" y2="298.6" stroke="#000" stroke-opacity="0.5" stroke-width="0.9"/>
<line x1="238.16" y1="296.7" x2="252.76" y2="296.7" stroke="#000" stroke-opacity="0.42" stroke-width="1.5"/>
<line x1="261.72" y1="233.5" x2="261.72" y2="300.1" stroke="#1a1a1a" stroke-width="0.9"/>
<line x1="258.07" y1="233.5" x2="265.37" y2="233.5" stroke="#1a1a1a" stroke-width="0.9"/>
<line x1="258.07" y1="300.1" x2="265.37" y2="300.1" stroke="#1a1a1a" stroke-width="0.9"/>
<rect x="254.42" y="276.6" width="14.6" height="17.3" fill="#C1CDCD" stroke="#333" stroke-opacity="0.85" stroke-width="0.9"/>
<line x1="261.72" y1="276.6" x2="261.72" y2="293.9" stroke="#000" stroke-opacity="0.5" stroke-width="0.9"/>
<line x1="254.42" y1="288" x2="269.02" y2="288" stroke="#000" stroke-opacity="0.42" stroke-width="1.5"/>
<line x1="277.98" y1="193.7" x2="277.98" y2="298.2" stroke="#1a1a1a" stroke-width="0.9"/>
<line x1="274.33" y1="193.7" x2="281.63" y2="193.7" stroke="#1a1a1a" stroke-width="0.9"/>
<line x1="274.33" y1="298.2" x2="281.63" y2="298.2" stroke="#1a1a1a" stroke-width="0.9"/>
<rect x="270.68" y="272.6" width="14.6" height="23.7" fill="#C1CDCD" stroke="#333" stroke-opacity="0.85" stroke-width="0.9"/>
<line x1="277.98" y1="272.6" x2="277.98" y2="296.3" stroke="#000" stroke-opacity="0.5" stroke-width="0.9"/>
<line x1="270.68" y1="291.3" x2="285.28" y2="291.3" stroke="#000" stroke-opacity="0.42" stroke-width="1.5"/>
<rect x="56.5" y="164.5" width="230.9" height="145.9" fill="none" stroke="#333" stroke-width="1"/>
<text x="50.6" y="306.4" fill="#4D4D4D" font-size="11" text-anchor="end">0</text>
<text x="50.6" y="262.07" fill="#4D4D4D" font-size="11" text-anchor="end">1</text>
<text x="50.6" y="217.74" fill="#4D4D4D" font-size="11" text-anchor="end">2</text>
<text x="50.6" y="173.41" fill="#4D4D4D" font-size="11" text-anchor="end">3</text>
<text transform="translate(27.4,242) rotate(-90)" font-size="11.25" text-anchor="middle" fill="#000">Coefficient of Variation [%]</text>
<text x="63.2" y="190.9" font-size="11" font-weight="bold">DDA - PYE1</text>
<text transform="translate(65.8,321.2) rotate(-45)" font-size="11" text-anchor="end" fill="#4D4D4D"><tspan>F_Vanq_</tspan><tspan font-weight="bold">ecl</tspan></text>
<text transform="translate(82.06,321.2) rotate(-45)" font-size="11" text-anchor="end" fill="#4D4D4D"><tspan>D_ulti_</tspan><tspan font-weight="bold">ecl</tspan></text>
<text transform="translate(98.32,321.2) rotate(-45)" font-size="11" text-anchor="end" fill="#4D4D4D"><tspan>H_ulti_</tspan><tspan font-weight="bold">ecl</tspan></text>
<text transform="translate(114.58,321.2) rotate(-45)" font-size="11" text-anchor="end" fill="#4D4D4D"><tspan>A_evo_</tspan><tspan font-weight="bold">ex</tspan></text>
<text transform="translate(133.74,321.2) rotate(-45)" font-size="11" text-anchor="end" fill="#4D4D4D"><tspan>D_Vanq_</tspan><tspan font-weight="bold">ex</tspan></text>
<text transform="translate(149.4,321.2) rotate(-45)" font-size="11" text-anchor="end" fill="#4D4D4D"><tspan>E_Vanq_</tspan><tspan font-weight="bold">ex</tspan></text>
<text transform="translate(163.36,321.2) rotate(-45)" font-size="11" text-anchor="end" fill="#4D4D4D"><tspan>A_ulti_</tspan><tspan font-weight="bold">ex</tspan></text>
<text transform="translate(179.62,321.2) rotate(-45)" font-size="11" text-anchor="end" fill="#4D4D4D"><tspan>G_ulti_</tspan><tspan font-weight="bold">ex</tspan></text>
<text transform="translate(195.38,321.2) rotate(-45)" font-size="11" text-anchor="end" fill="#4D4D4D"><tspan>H_ulti_</tspan><tspan font-weight="bold">ex</tspan></text>
<text transform="translate(212.64,321.2) rotate(-45)" font-size="11" text-anchor="end" fill="#4D4D4D"><tspan>B_ulti_</tspan><tspan font-weight="bold">HF</tspan></text>
<text transform="translate(231.5,321.2) rotate(-45)" font-size="11" text-anchor="end" fill="#4D4D4D"><tspan>B_ulti_</tspan><tspan font-weight="bold">HFX</tspan></text>
<text transform="translate(251.46,321.2) rotate(-45)" font-size="11" text-anchor="end" fill="#4D4D4D"><tspan>E_ulti_</tspan><tspan font-weight="bold">lumos</tspan></text>
<text transform="translate(265.92,321.2) rotate(-45)" font-size="11" text-anchor="end" fill="#4D4D4D"><tspan>C_nE_</tspan><tspan font-weight="bold">tTOF</tspan></text>
<text transform="translate(284.58,321.2) rotate(-45)" font-size="11" text-anchor="end" fill="#4D4D4D"><tspan>G_nLC_</tspan><tspan font-weight="bold">tTOF</tspan></text>
<line x1="354.6" y1="305.4" x2="684.2" y2="305.4" stroke="#EBEBEB" stroke-width="0.9"/>
<line x1="354.6" y1="261.13" x2="684.2" y2="261.13" stroke="#EBEBEB" stroke-width="0.9"/>
<line x1="354.6" y1="216.86" x2="684.2" y2="216.86" stroke="#EBEBEB" stroke-width="0.9"/>
<line x1="354.6" y1="172.59" x2="684.2" y2="172.59" stroke="#EBEBEB" stroke-width="0.9"/>
<line x1="354.6" y1="283.26" x2="684.2" y2="283.26" stroke="#EBEBEB" stroke-width="0.7"/>
<line x1="354.6" y1="238.99" x2="684.2" y2="238.99" stroke="#EBEBEB" stroke-width="0.7"/>
<line x1="354.6" y1="194.72" x2="684.2" y2="194.72" stroke="#EBEBEB" stroke-width="0.7"/>
<line x1="364" y1="287.3" x2="364" y2="301" stroke="#1a1a1a" stroke-width="0.9"/>
<line x1="360.3" y1="287.3" x2="367.7" y2="287.3" stroke="#1a1a1a" stroke-width="0.9"/>
<line x1="360.3" y1="301" x2="367.7" y2="301" stroke="#1a1a1a" stroke-width="0.9"/>
<rect x="356.6" y="291.3" width="14.8" height="7.8" fill="#C1CDCD" stroke="#333" stroke-opacity="0.85" stroke-width="0.9"/>
<line x1="364" y1="291.3" x2="364" y2="299.1" stroke="#000" stroke-opacity="0.5" stroke-width="0.9"/>
<line x1="356.6" y1="295.1" x2="371.4" y2="295.1" stroke="#000" stroke-opacity="0.42" stroke-width="1.5"/>
<line x1="380.36" y1="294.4" x2="380.36" y2="302.2" stroke="#1a1a1a" stroke-width="0.9"/>
<line x1="376.66" y1="294.4" x2="384.06" y2="294.4" stroke="#1a1a1a" stroke-width="0.9"/>
<line x1="376.66" y1="302.2" x2="384.06" y2="302.2" stroke="#1a1a1a" stroke-width="0.9"/>
<rect x="372.96" y="297.5" width="14.8" height="3.9" fill="#C1CDCD" stroke="#333" stroke-opacity="0.85" stroke-width="0.9"/>
<line x1="380.36" y1="297.5" x2="380.36" y2="301.4" stroke="#000" stroke-opacity="0.5" stroke-width="0.9"/>
<line x1="372.96" y1="299.3" x2="387.76" y2="299.3" stroke="#000" stroke-opacity="0.42" stroke-width="1.5"/>
<line x1="396.72" y1="282.6" x2="396.72" y2="300.9" stroke="#1a1a1a" stroke-width="0.9"/>
<line x1="393.02" y1="282.6" x2="400.42" y2="282.6" stroke="#1a1a1a" stroke-width="0.9"/>
<line x1="393.02" y1="300.9" x2="400.42" y2="300.9" stroke="#1a1a1a" stroke-width="0.9"/>
<rect x="389.32" y="287.9" width="14.8" height="10.2" fill="#C1CDCD" stroke="#333" stroke-opacity="0.85" stroke-width="0.9"/>
<line x1="396.72" y1="287.9" x2="396.72" y2="298.1" stroke="#000" stroke-opacity="0.5" stroke-width="0.9"/>
<line x1="389.32" y1="293.4" x2="404.12" y2="293.4" stroke="#000" stroke-opacity="0.42" stroke-width="1.5"/>
<line x1="413.08" y1="197.7" x2="413.08" y2="287.8" stroke="#1a1a1a" stroke-width="0.9"/>
<line x1="409.38" y1="197.7" x2="416.78" y2="197.7" stroke="#1a1a1a" stroke-width="0.9"/>
<line x1="409.38" y1="287.8" x2="416.78" y2="287.8" stroke="#1a1a1a" stroke-width="0.9"/>
<rect x="405.68" y="232.8" width="14.8" height="37.5" fill="#C1CDCD" stroke="#333" stroke-opacity="0.85" stroke-width="0.9"/>
<line x1="413.08" y1="232.8" x2="413.08" y2="270.3" stroke="#000" stroke-opacity="0.5" stroke-width="0.9"/>
<line x1="405.68" y1="253.4" x2="420.48" y2="253.4" stroke="#000" stroke-opacity="0.42" stroke-width="1.5"/>
<line x1="429.44" y1="256" x2="429.44" y2="299.1" stroke="#1a1a1a" stroke-width="0.9"/>
<line x1="425.74" y1="256" x2="433.14" y2="256" stroke="#1a1a1a" stroke-width="0.9"/>
<line x1="425.74" y1="299.1" x2="433.14" y2="299.1" stroke="#1a1a1a" stroke-width="0.9"/>
<rect x="422.04" y="277.3" width="14.8" height="17.1" fill="#C1CDCD" stroke="#333" stroke-opacity="0.85" stroke-width="0.9"/>
<line x1="429.44" y1="277.3" x2="429.44" y2="294.4" stroke="#000" stroke-opacity="0.5" stroke-width="0.9"/>
<line x1="422.04" y1="288" x2="436.84" y2="288" stroke="#000" stroke-opacity="0.42" stroke-width="1.5"/>
<line x1="445.8" y1="285.5" x2="445.8" y2="303.1" stroke="#1a1a1a" stroke-width="0.9"/>
<line x1="442.1" y1="285.5" x2="449.5" y2="285.5" stroke="#1a1a1a" stroke-width="0.9"/>
<line x1="442.1" y1="303.1" x2="449.5" y2="303.1" stroke="#1a1a1a" stroke-width="0.9"/>
<rect x="438.4" y="299.3" width="14.8" height="3" fill="#C1CDCD" stroke="#333" stroke-opacity="0.85" stroke-width="0.9"/>
<line x1="445.8" y1="299.3" x2="445.8" y2="302.3" stroke="#000" stroke-opacity="0.5" stroke-width="0.9"/>
<line x1="438.4" y1="300.6" x2="453.2" y2="300.6" stroke="#000" stroke-opacity="0.42" stroke-width="1.5"/>
<line x1="462.16" y1="292.5" x2="462.16" y2="302.6" stroke="#1a1a1a" stroke-width="0.9"/>
<line x1="458.46" y1="292.5" x2="465.86" y2="292.5" stroke="#1a1a1a" stroke-width="0.9"/>
<line x1="458.46" y1="302.6" x2="465.86" y2="302.6" stroke="#1a1a1a" stroke-width="0.9"/>
<rect x="454.76" y="300.4" width="14.8" height="1.9" fill="#C1CDCD" stroke="#333" stroke-opacity="0.85" stroke-width="0.9"/>
<line x1="462.16" y1="300.4" x2="462.16" y2="302.3" stroke="#000" stroke-opacity="0.5" stroke-width="0.9"/>
<line x1="454.76" y1="301.2" x2="469.56" y2="301.2" stroke="#000" stroke-opacity="0.42" stroke-width="1.5"/>
<line x1="478.52" y1="293.5" x2="478.52" y2="301.5" stroke="#1a1a1a" stroke-width="0.9"/>
<line x1="474.82" y1="293.5" x2="482.22" y2="293.5" stroke="#1a1a1a" stroke-width="0.9"/>
<line x1="474.82" y1="301.5" x2="482.22" y2="301.5" stroke="#1a1a1a" stroke-width="0.9"/>
<rect x="471.12" y="295.3" width="14.8" height="5.5" fill="#C1CDCD" stroke="#333" stroke-opacity="0.85" stroke-width="0.9"/>
<line x1="478.52" y1="295.3" x2="478.52" y2="300.8" stroke="#000" stroke-opacity="0.5" stroke-width="0.9"/>
<line x1="471.12" y1="297.9" x2="485.92" y2="297.9" stroke="#000" stroke-opacity="0.42" stroke-width="1.5"/>
<line x1="494.88" y1="269.4" x2="494.88" y2="296.4" stroke="#1a1a1a" stroke-width="0.9"/>
<line x1="491.18" y1="269.4" x2="498.58" y2="269.4" stroke="#1a1a1a" stroke-width="0.9"/>
<line x1="491.18" y1="296.4" x2="498.58" y2="296.4" stroke="#1a1a1a" stroke-width="0.9"/>
<rect x="487.48" y="281.1" width="14.8" height="11.7" fill="#C1CDCD" stroke="#333" stroke-opacity="0.85" stroke-width="0.9"/>
<line x1="494.88" y1="281.1" x2="494.88" y2="292.8" stroke="#000" stroke-opacity="0.5" stroke-width="0.9"/>
<line x1="487.48" y1="288.4" x2="502.28" y2="288.4" stroke="#000" stroke-opacity="0.42" stroke-width="1.5"/>
<line x1="511.24" y1="298.3" x2="511.24" y2="304.5" stroke="#1a1a1a" stroke-width="0.9"/>
<line x1="507.54" y1="298.3" x2="514.94" y2="298.3" stroke="#1a1a1a" stroke-width="0.9"/>
<line x1="507.54" y1="304.5" x2="514.94" y2="304.5" stroke="#1a1a1a" stroke-width="0.9"/>
<rect x="503.84" y="300.4" width="14.8" height="2.3" fill="#C1CDCD" stroke="#333" stroke-opacity="0.85" stroke-width="0.9"/>
<line x1="511.24" y1="300.4" x2="511.24" y2="302.7" stroke="#000" stroke-opacity="0.5" stroke-width="0.9"/>
<line x1="503.84" y1="301.5" x2="518.64" y2="301.5" stroke="#000" stroke-opacity="0.42" stroke-width="1.5"/>
<line x1="527.6" y1="300.1" x2="527.6" y2="303.7" stroke="#1a1a1a" stroke-width="0.9"/>
<line x1="523.9" y1="300.1" x2="531.3" y2="300.1" stroke="#1a1a1a" stroke-width="0.9"/>
<line x1="523.9" y1="303.7" x2="531.3" y2="303.7" stroke="#1a1a1a" stroke-width="0.9"/>
<rect x="520.2" y="301.2" width="14.8" height="2.2" fill="#C1CDCD" stroke="#333" stroke-opacity="0.85" stroke-width="0.9"/>
<line x1="527.6" y1="301.2" x2="527.6" y2="303.4" stroke="#000" stroke-opacity="0.5" stroke-width="0.9"/>
<line x1="520.2" y1="302" x2="535" y2="302" stroke="#000" stroke-opacity="0.42" stroke-width="1.5"/>
<line x1="543.96" y1="268" x2="543.96" y2="300.4" stroke="#1a1a1a" stroke-width="0.9"/>
<line x1="540.26" y1="268" x2="547.66" y2="268" stroke="#1a1a1a" stroke-width="0.9"/>
<line x1="540.26" y1="300.4" x2="547.66" y2="300.4" stroke="#1a1a1a" stroke-width="0.9"/>
<rect x="536.56" y="276.3" width="14.8" height="11" fill="#C1CDCD" stroke="#333" stroke-opacity="0.85" stroke-width="0.9"/>
<line x1="543.96" y1="276.3" x2="543.96" y2="287.3" stroke="#000" stroke-opacity="0.5" stroke-width="0.9"/>
<line x1="536.56" y1="282.2" x2="551.36" y2="282.2" stroke="#000" stroke-opacity="0.42" stroke-width="1.5"/>
<line x1="560.32" y1="290.3" x2="560.32" y2="303" stroke="#1a1a1a" stroke-width="0.9"/>
<line x1="556.62" y1="290.3" x2="564.02" y2="290.3" stroke="#1a1a1a" stroke-width="0.9"/>
<line x1="556.62" y1="303" x2="564.02" y2="303" stroke="#1a1a1a" stroke-width="0.9"/>
<rect x="552.92" y="292.5" width="14.8" height="4.9" fill="#C1CDCD" stroke="#333" stroke-opacity="0.85" stroke-width="0.9"/>
<line x1="560.32" y1="292.5" x2="560.32" y2="297.4" stroke="#000" stroke-opacity="0.5" stroke-width="0.9"/>
<line x1="552.92" y1="295.3" x2="567.72" y2="295.3" stroke="#000" stroke-opacity="0.42" stroke-width="1.5"/>
<line x1="576.68" y1="295.3" x2="576.68" y2="301.2" stroke="#1a1a1a" stroke-width="0.9"/>
<line x1="572.98" y1="295.3" x2="580.38" y2="295.3" stroke="#1a1a1a" stroke-width="0.9"/>
<line x1="572.98" y1="301.2" x2="580.38" y2="301.2" stroke="#1a1a1a" stroke-width="0.9"/>
<rect x="569.28" y="297.4" width="14.8" height="3.1" fill="#C1CDCD" stroke="#333" stroke-opacity="0.85" stroke-width="0.9"/>
<line x1="576.68" y1="297.4" x2="576.68" y2="300.5" stroke="#000" stroke-opacity="0.5" stroke-width="0.9"/>
<line x1="569.28" y1="298.6" x2="584.08" y2="298.6" stroke="#000" stroke-opacity="0.42" stroke-width="1.5"/>
<line x1="593.04" y1="289.4" x2="593.04" y2="302.3" stroke="#1a1a1a" stroke-width="0.9"/>
<line x1="589.34" y1="289.4" x2="596.74" y2="289.4" stroke="#1a1a1a" stroke-width="0.9"/>
<line x1="589.34" y1="302.3" x2="596.74" y2="302.3" stroke="#1a1a1a" stroke-width="0.9"/>
<rect x="585.64" y="295.3" width="14.8" height="4.5" fill="#C1CDCD" stroke="#333" stroke-opacity="0.85" stroke-width="0.9"/>
<line x1="593.04" y1="295.3" x2="593.04" y2="299.8" stroke="#000" stroke-opacity="0.5" stroke-width="0.9"/>
<line x1="585.64" y1="297.4" x2="600.44" y2="297.4" stroke="#000" stroke-opacity="0.42" stroke-width="1.5"/>
<line x1="609.4" y1="277.4" x2="609.4" y2="302.3" stroke="#1a1a1a" stroke-width="0.9"/>
<line x1="605.7" y1="277.4" x2="613.1" y2="277.4" stroke="#1a1a1a" stroke-width="0.9"/>
<line x1="605.7" y1="302.3" x2="613.1" y2="302.3" stroke="#1a1a1a" stroke-width="0.9"/>
<rect x="602" y="288.8" width="14.8" height="9.8" fill="#C1CDCD" stroke="#333" stroke-opacity="0.85" stroke-width="0.9"/>
<line x1="609.4" y1="288.8" x2="609.4" y2="298.6" stroke="#000" stroke-opacity="0.5" stroke-width="0.9"/>
<line x1="602" y1="296.4" x2="616.8" y2="296.4" stroke="#000" stroke-opacity="0.42" stroke-width="1.5"/>
<line x1="625.76" y1="299.4" x2="625.76" y2="305.3" stroke="#1a1a1a" stroke-width="0.9"/>
<line x1="622.06" y1="299.4" x2="629.46" y2="299.4" stroke="#1a1a1a" stroke-width="0.9"/>
<line x1="622.06" y1="305.3" x2="629.46" y2="305.3" stroke="#1a1a1a" stroke-width="0.9"/>
<rect x="618.36" y="300.5" width="14.8" height="2.7" fill="#C1CDCD" stroke="#333" stroke-opacity="0.85" stroke-width="0.9"/>
<line x1="625.76" y1="300.5" x2="625.76" y2="303.2" stroke="#000" stroke-opacity="0.5" stroke-width="0.9"/>
<line x1="618.36" y1="301.5" x2="633.16" y2="301.5" stroke="#000" stroke-opacity="0.42" stroke-width="1.5"/>
<line x1="642.12" y1="275" x2="642.12" y2="295.5" stroke="#1a1a1a" stroke-width="0.9"/>
<line x1="638.42" y1="275" x2="645.82" y2="275" stroke="#1a1a1a" stroke-width="0.9"/>
<line x1="638.42" y1="295.5" x2="645.82" y2="295.5" stroke="#1a1a1a" stroke-width="0.9"/>
<rect x="634.72" y="287.6" width="14.8" height="5.7" fill="#C1CDCD" stroke="#333" stroke-opacity="0.85" stroke-width="0.9"/>
<line x1="642.12" y1="287.6" x2="642.12" y2="293.3" stroke="#000" stroke-opacity="0.5" stroke-width="0.9"/>
<line x1="634.72" y1="291.2" x2="649.52" y2="291.2" stroke="#000" stroke-opacity="0.42" stroke-width="1.5"/>
<line x1="658.48" y1="258.5" x2="658.48" y2="294.3" stroke="#1a1a1a" stroke-width="0.9"/>
<line x1="654.78" y1="258.5" x2="662.18" y2="258.5" stroke="#1a1a1a" stroke-width="0.9"/>
<line x1="654.78" y1="294.3" x2="662.18" y2="294.3" stroke="#1a1a1a" stroke-width="0.9"/>
<rect x="651.08" y="264.1" width="14.8" height="23.5" fill="#C1CDCD" stroke="#333" stroke-opacity="0.85" stroke-width="0.9"/>
<line x1="658.48" y1="264.1" x2="658.48" y2="287.6" stroke="#000" stroke-opacity="0.5" stroke-width="0.9"/>
<line x1="651.08" y1="273.2" x2="665.88" y2="273.2" stroke="#000" stroke-opacity="0.42" stroke-width="1.5"/>
<line x1="674.84" y1="290.4" x2="674.84" y2="302.4" stroke="#1a1a1a" stroke-width="0.9"/>
<line x1="671.14" y1="290.4" x2="678.54" y2="290.4" stroke="#1a1a1a" stroke-width="0.9"/>
<line x1="671.14" y1="302.4" x2="678.54" y2="302.4" stroke="#1a1a1a" stroke-width="0.9"/>
<rect x="667.44" y="294.5" width="14.8" height="6" fill="#C1CDCD" stroke="#333" stroke-opacity="0.85" stroke-width="0.9"/>
<line x1="674.84" y1="294.5" x2="674.84" y2="300.5" stroke="#000" stroke-opacity="0.5" stroke-width="0.9"/>
<line x1="667.44" y1="298.3" x2="682.24" y2="298.3" stroke="#000" stroke-opacity="0.42" stroke-width="1.5"/>
<rect x="354.6" y="166" width="329.6" height="146.2" fill="none" stroke="#333" stroke-width="1"/>
<text x="347.9" y="307.7" fill="#4D4D4D" font-size="11" text-anchor="end">0</text>
<text x="347.9" y="263.43" fill="#4D4D4D" font-size="11" text-anchor="end">1</text>
<text x="347.9" y="219.16" fill="#4D4D4D" font-size="11" text-anchor="end">2</text>
<text x="347.9" y="174.89" fill="#4D4D4D" font-size="11" text-anchor="end">3</text>
<text transform="translate(324.2,242.9) rotate(-90)" font-size="11.25" text-anchor="middle" fill="#000">Coefficient of Variation [%]</text>
<text x="362.3" y="191.3" font-size="11" font-weight="bold">DIA - PYE1</text>
<rect x="511.2" y="179.3" width="19.8" height="19.5" fill="#C1CDCD"/>
<text x="538.8" y="193.2" font-size="11">Retention time</text>
<text transform="translate(365.1,322.2) rotate(-45)" font-size="11" text-anchor="end" fill="#4D4D4D"><tspan>D_ulti_</tspan><tspan font-weight="bold">ecl</tspan></text>
<text transform="translate(380.26,322.2) rotate(-45)" font-size="11" text-anchor="end" fill="#4D4D4D"><tspan>H_ulti_</tspan><tspan font-weight="bold">ecl</tspan></text>
<text transform="translate(396.62,322.2) rotate(-45)" font-size="11" text-anchor="end" fill="#4D4D4D"><tspan>A_evo_</tspan><tspan font-weight="bold">ex</tspan></text>
<text transform="translate(412.98,322.2) rotate(-45)" font-size="11" text-anchor="end" fill="#4D4D4D"><tspan>I_nLC_</tspan><tspan font-weight="bold">ex</tspan></text>
<text transform="translate(430.54,322.2) rotate(-45)" font-size="11" text-anchor="end" fill="#4D4D4D"><tspan>D_Vanq_</tspan><tspan font-weight="bold">ex</tspan></text>
<text transform="translate(445,322.2) rotate(-45)" font-size="11" text-anchor="end" fill="#4D4D4D"><tspan>E_Vanq_</tspan><tspan font-weight="bold">ex</tspan></text>
<text transform="translate(462.06,322.2) rotate(-45)" font-size="11" text-anchor="end" fill="#4D4D4D"><tspan>A_ulti_</tspan><tspan font-weight="bold">ex</tspan></text>
<text transform="translate(477.72,322.2) rotate(-45)" font-size="11" text-anchor="end" fill="#4D4D4D"><tspan>G_ulti_</tspan><tspan font-weight="bold">ex</tspan></text>
<text transform="translate(493.48,322.2) rotate(-45)" font-size="11" text-anchor="end" fill="#4D4D4D"><tspan>H_ulti_</tspan><tspan font-weight="bold">ex</tspan></text>
<text transform="translate(509.24,322.2) rotate(-45)" font-size="11" text-anchor="end" fill="#4D4D4D"><tspan>L_ulti_</tspan><tspan font-weight="bold">ex</tspan></text>
<text transform="translate(525.9,322.2) rotate(-45)" font-size="11" text-anchor="end" fill="#4D4D4D"><tspan>L_ulti_</tspan><tspan font-weight="bold">ex</tspan><tspan>_FAIMS</tspan></text>
<text transform="translate(540.76,322.2) rotate(-45)" font-size="11" text-anchor="end" fill="#4D4D4D"><tspan>B_ulti_</tspan><tspan font-weight="bold">HF</tspan></text>
<text transform="translate(558.32,322.2) rotate(-45)" font-size="11" text-anchor="end" fill="#4D4D4D"><tspan>B_ulti_</tspan><tspan font-weight="bold">HFX</tspan></text>
<text transform="translate(578.98,322.2) rotate(-45)" font-size="11" text-anchor="end" fill="#4D4D4D"><tspan>E_ulti_</tspan><tspan font-weight="bold">lumos</tspan></text>
<text transform="translate(594.14,322.2) rotate(-45)" font-size="11" text-anchor="end" fill="#4D4D4D"><tspan>L_nAcqu_</tspan><tspan font-weight="bold">tTOF</tspan></text>
<text transform="translate(609.4,322.2) rotate(-45)" font-size="11" text-anchor="end" fill="#4D4D4D"><tspan>C_nE_</tspan><tspan font-weight="bold">tTOF</tspan></text>
<text transform="translate(627.06,322.2) rotate(-45)" font-size="11" text-anchor="end" fill="#4D4D4D"><tspan>L_nE_</tspan><tspan font-weight="bold">tTOF</tspan></text>
<text transform="translate(645.42,322.2) rotate(-45)" font-size="11" text-anchor="end" fill="#4D4D4D"><tspan>G_nLC_</tspan><tspan font-weight="bold">tTOF</tspan></text>
<text transform="translate(661.78,322.2) rotate(-45)" font-size="11" text-anchor="end" fill="#4D4D4D"><tspan>J_nLC_</tspan><tspan font-weight="bold">tTOF</tspan></text>
<text transform="translate(680.74,322.2) rotate(-45)" font-size="11" text-anchor="end" fill="#4D4D4D"><tspan>K_Mclass_</tspan><tspan font-weight="bold">zTOF</tspan></text>
<text x="-0.8" y="11.9" font-size="17.5" font-weight="bold">a</text>
<text x="298.9" y="11.8" font-size="17.5" font-weight="bold">b</text>
<text x="-0.6" y="167.6" font-size="17.5" font-weight="bold">c</text>
<text x="298.6" y="167.9" font-size="17.5" font-weight="bold">d</text>
<text x="-0.6" y="390.8" font-size="17.5" font-weight="bold">e</text>
<text x="340.3" y="389.9" font-size="17.5" font-weight="bold">f</text>
<line x1="66.2" y1="413.5" x2="315.9" y2="413.5" stroke="#EBEBEB" stroke-width="1.0"/>
<line x1="66.2" y1="431.6" x2="315.9" y2="431.6" stroke="#EBEBEB" stroke-width="0.8"/>
<line x1="66.2" y1="449.9" x2="315.9" y2="449.9" stroke="#EBEBEB" stroke-width="1.0"/>
<line x1="66.2" y1="468.2" x2="315.9" y2="468.2" stroke="#EBEBEB" stroke-width="0.8"/>
<line x1="66.2" y1="486.3" x2="315.9" y2="486.3" stroke="#EBEBEB" stroke-width="1.0"/>
<line x1="66.2" y1="504.4" x2="315.9" y2="504.4" stroke="#EBEBEB" stroke-width="0.8"/>
<line x1="66.2" y1="522.5" x2="315.9" y2="522.5" stroke="#EBEBEB" stroke-width="1.0"/>
<line x1="66.2" y1="541.0" x2="315.9" y2="541.0" stroke="#EBEBEB" stroke-width="0.8"/>
<line x1="102.5" y1="408.0" x2="102.5" y2="558.5" stroke="#EBEBEB" stroke-width="0.8"/>
<line x1="150.5" y1="408.0" x2="150.5" y2="558.5" stroke="#EBEBEB" stroke-width="1.0"/>
<line x1="198.3" y1="408.0" x2="198.3" y2="558.5" stroke="#EBEBEB" stroke-width="0.8"/>
<line x1="246.2" y1="408.0" x2="246.2" y2="558.5" stroke="#EBEBEB" stroke-width="1.0"/>
<line x1="294.0" y1="408.0" x2="294.0" y2="558.5" stroke="#EBEBEB" stroke-width="0.8"/>
<circle cx="77" cy="512.4" r="4.4" fill="#999999" fill-opacity="0.9"/>
<circle cx="96.7" cy="503.1" r="6.3" fill="#999999" fill-opacity="0.9"/>
<circle cx="118.6" cy="513.8" r="6.1" fill="#999999" fill-opacity="0.9"/>
<circle cx="129.4" cy="526.8" r="4.7" fill="#999999" fill-opacity="0.9"/>
<circle cx="104.9" cy="530.8" r="5.1" fill="#999999" fill-opacity="0.9"/>
<circle cx="118" cy="534.7" r="5.1" fill="#999999" fill-opacity="0.9"/>
<circle cx="128.5" cy="467.4" r="7.4" fill="#999999" fill-opacity="0.9"/>
<circle cx="185.4" cy="503.1" r="5.8" fill="#999999" fill-opacity="0.9"/>
<circle cx="195" cy="513.1" r="3.9" fill="#999999" fill-opacity="0.9"/>
<circle cx="248.1" cy="520" r="6.6" fill="#999999" fill-opacity="0.9"/>
<circle cx="304.2" cy="551.9" r="4.7" fill="#999999" fill-opacity="0.9"/>
<circle cx="122.9" cy="518.9" r="5.1" fill="#D83A3F" fill-opacity="0.9"/>
<circle cx="166.7" cy="543.9" r="5.3" fill="#D83A3F" fill-opacity="0.9"/>
<circle cx="176.6" cy="414.9" r="5.3" fill="#D83A3F" fill-opacity="0.9"/>
<text x="63.4" y="415.7" fill="#4D4D4D" font-size="11" text-anchor="end">1.00</text>
<text x="63.4" y="452.3" fill="#4D4D4D" font-size="11" text-anchor="end">0.75</text>
<text x="63.4" y="488.8" fill="#4D4D4D" font-size="11" text-anchor="end">0.50</text>
<text x="63.4" y="525" fill="#4D4D4D" font-size="11" text-anchor="end">0.25</text>
<text x="150.2" y="572.4" fill="#4D4D4D" font-size="11" text-anchor="middle">200</text>
<text x="246.4" y="572.4" fill="#4D4D4D" font-size="11" text-anchor="middle">300</text>
<text x="175.1" y="587.4" font-size="11" text-anchor="middle">Average Peak Capacity</text>
<text transform="translate(27.1,481.3) rotate(-90)" font-size="11.25" text-anchor="middle" fill="#000">Median RT CV [%]</text>
<text x="65.6" y="396.4" font-size="11" font-weight="bold">DDA - PYE1</text>
<line x1="396.6" y1="422.3" x2="646.3" y2="422.3" stroke="#EBEBEB" stroke-width="0.8"/>
<line x1="396.6" y1="437.4" x2="646.3" y2="437.4" stroke="#EBEBEB" stroke-width="1.0"/>
<line x1="396.6" y1="452.7" x2="646.3" y2="452.7" stroke="#EBEBEB" stroke-width="0.8"/>
<line x1="396.6" y1="468.0" x2="646.3" y2="468.0" stroke="#EBEBEB" stroke-width="1.0"/>
<line x1="396.6" y1="483.3" x2="646.3" y2="483.3" stroke="#EBEBEB" stroke-width="0.8"/>
<line x1="396.6" y1="498.4" x2="646.3" y2="498.4" stroke="#EBEBEB" stroke-width="1.0"/>
<line x1="396.6" y1="513.4" x2="646.3" y2="513.4" stroke="#EBEBEB" stroke-width="0.8"/>
<line x1="396.6" y1="528.6" x2="646.3" y2="528.6" stroke="#EBEBEB" stroke-width="1.0"/>
<line x1="396.6" y1="544.0" x2="646.3" y2="544.0" stroke="#EBEBEB" stroke-width="0.8"/>
<line x1="421.5" y1="408.3" x2="421.5" y2="558.4" stroke="#EBEBEB" stroke-width="1.0"/>
<line x1="449.5" y1="408.3" x2="449.5" y2="558.4" stroke="#EBEBEB" stroke-width="0.8"/>
<line x1="476.6" y1="408.3" x2="476.6" y2="558.4" stroke="#EBEBEB" stroke-width="1.0"/>
<line x1="504.4" y1="408.3" x2="504.4" y2="558.4" stroke="#EBEBEB" stroke-width="0.8"/>
<line x1="531.6" y1="408.3" x2="531.6" y2="558.4" stroke="#EBEBEB" stroke-width="1.0"/>
<line x1="559.2" y1="408.3" x2="559.2" y2="558.4" stroke="#EBEBEB" stroke-width="0.8"/>
<line x1="586.7" y1="408.3" x2="586.7" y2="558.4" stroke="#EBEBEB" stroke-width="1.0"/>
<line x1="614.2" y1="408.3" x2="614.2" y2="558.4" stroke="#EBEBEB" stroke-width="0.8"/>
<line x1="641.3" y1="408.3" x2="641.3" y2="558.4" stroke="#EBEBEB" stroke-width="1.0"/>
<circle cx="408" cy="415" r="3.9" fill="#999999" fill-opacity="0.9"/>
<circle cx="437.9" cy="472" r="4.7" fill="#999999" fill-opacity="0.9"/>
<circle cx="449.1" cy="496.6" r="6.3" fill="#999999" fill-opacity="0.9"/>
<circle cx="484.8" cy="512.4" r="6.7" fill="#999999" fill-opacity="0.9"/>
<circle cx="482.6" cy="520.7" r="3.6" fill="#999999" fill-opacity="0.9"/>
<circle cx="468.5" cy="527.4" r="4.5" fill="#999999" fill-opacity="0.9"/>
<circle cx="460.1" cy="532.6" r="5.2" fill="#999999" fill-opacity="0.9"/>
<circle cx="456.5" cy="539.2" r="1.1" fill="#999999" fill-opacity="0.9"/>
<circle cx="489.9" cy="531.3" r="6.1" fill="#999999" fill-opacity="0.9"/>
<circle cx="487.4" cy="538.8" r="4.5" fill="#999999" fill-opacity="0.9"/>
<circle cx="487.9" cy="542.6" r="5.2" fill="#999999" fill-opacity="0.9"/>
<circle cx="503.3" cy="548.7" r="3.6" fill="#999999" fill-opacity="0.9"/>
<circle cx="512.9" cy="551.9" r="3.7" fill="#999999" fill-opacity="0.9"/>
<circle cx="516.2" cy="533.1" r="5.4" fill="#999999" fill-opacity="0.9"/>
<circle cx="547.8" cy="543.4" r="7.0" fill="#999999" fill-opacity="0.9"/>
<circle cx="555.2" cy="550.1" r="4.0" fill="#999999" fill-opacity="0.9"/>
<circle cx="570.6" cy="548.3" r="4.7" fill="#999999" fill-opacity="0.9"/>
<circle cx="471.1" cy="539.9" r="3.0" fill="#D83A3F" fill-opacity="0.9"/>
<circle cx="525.1" cy="513.2" r="5.2" fill="#D83A3F" fill-opacity="0.9"/>
<circle cx="635.1" cy="548.5" r="5.1" fill="#D83A3F" fill-opacity="0.9"/>
<text x="391.5" y="440.1" fill="#4D4D4D" font-size="11" text-anchor="end">1.00</text>
<text x="391.5" y="470.7" fill="#4D4D4D" font-size="11" text-anchor="end">0.75</text>
<text x="391.5" y="501.1" fill="#4D4D4D" font-size="11" text-anchor="end">0.50</text>
<text x="391.5" y="531.3" fill="#4D4D4D" font-size="11" text-anchor="end">0.25</text>
<text x="421.6" y="573.2" fill="#4D4D4D" font-size="11" text-anchor="middle">50</text>
<text x="476.9" y="573.2" fill="#4D4D4D" font-size="11" text-anchor="middle">100</text>
<text x="531.8" y="573.2" fill="#4D4D4D" font-size="11" text-anchor="middle">150</text>
<text x="586.9" y="573.2" fill="#4D4D4D" font-size="11" text-anchor="middle">200</text>
<text x="641.6" y="573.2" fill="#4D4D4D" font-size="11" text-anchor="middle">250</text>
<text x="522.8" y="587.6" font-size="11" text-anchor="middle">Average Peak Capacity</text>
<text transform="translate(356.4,481.4) rotate(-90)" font-size="11.25" text-anchor="middle" fill="#000">Median RT CV [%]</text>
<text x="392.1" y="396.4" font-size="11" font-weight="bold">DIA - PYE1</text>
<rect x="505.5" y="389.7" width="177.8" height="53.5" fill="#fff" stroke="#555" stroke-width="0.8"/>
<text x="594.5" y="401.6" font-size="11" text-anchor="middle">Gradient length [min]</text>
<circle cx="517.2" cy="415.7" r="0.9" fill="#333"/>
<text x="521.6" y="419.4" font-size="11">11</text>
<circle cx="544.8" cy="415.7" r="4.7" fill="#333"/>
<text x="553.1" y="419.4" font-size="11">44</text>
<circle cx="580.0" cy="415.7" r="4.9" fill="#333"/>
<text x="588.1" y="419.4" font-size="11">60</text>
<circle cx="614.2" cy="415.7" r="6.2" fill="#333"/>
<text x="623.1" y="419.4" font-size="11">90</text>
<circle cx="650.0" cy="415.7" r="7.0" fill="#333"/>
<text x="658.6" y="419.4" font-size="11">120</text>
<circle cx="524.8" cy="434.2" r="3.6" fill="#999999" fill-opacity="0.9"/>
<text x="532.4" y="437.9" font-size="11" letter-spacing="-0.32">Nanoflow</text>
<circle cx="606.5" cy="434.2" r="3.6" fill="#D83A3F" fill-opacity="0.9"/>
<text x="614.4" y="437.9" font-size="11">Microflow</text>
</svg></body></html>
